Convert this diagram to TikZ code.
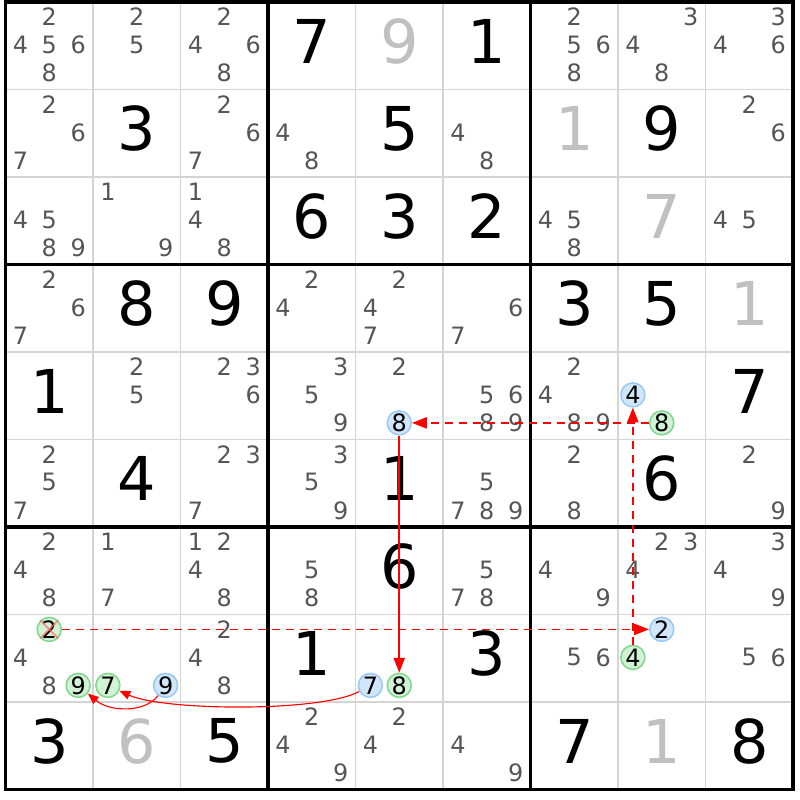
\documentclass[tikz,border=0pt]{standalone}
\usepackage{fontspec}
\setmainfont{DejaVu Sans}
\usetikzlibrary{arrows.meta}

\definecolor{pencilgray}{HTML}{555555}
\definecolor{givengray}{HTML}{C0C0C0}
\definecolor{gridgray}{HTML}{D4D4D4}
\definecolor{bluefill}{HTML}{D2E6FA}
\definecolor{blueline}{HTML}{99C9F5}
\definecolor{greenfill}{HTML}{D2F2D6}
\definecolor{greenline}{HTML}{80D88C}

\newcommand{\pencilfont}{\fontsize{17pt}{18pt}\selectfont}
\newcommand{\bigfont}{\fontsize{43pt}{45pt}\selectfont}

\tikzset{
	pencil/.style={text=pencilgray, font=\pencilfont, inner sep=0pt},
	bigdigit/.style={font=\bigfont, inner sep=0pt},
	hlblue/.style={circle, draw=blueline, fill=bluefill, line width=1.1pt, minimum size=0.6cm, inner sep=0pt, font=\pencilfont},
	hlgreen/.style={hlblue, draw=greenline, fill=greenfill},
	cellline/.style={draw=gridgray, line width=1.2pt},
	boxline/.style={draw=black, line width=2.2pt},
	strongln/.style={draw=red, line width=1.2pt, -{Triangle[length=0.37cm,width=0.28cm]}},
	weakln/.style={strongln, dash pattern=on 0.2cm off 0.15cm},
	curvyln/.style={draw=red, line width=0.8pt, -{Triangle[length=0.27cm,width=0.22cm]}},
	struck/.style={draw=red!60, line width=1.2pt, opacity=0.7}
}

\newcommand{\solved}[4]{
	\node[bigdigit, text=#4] (v#1#2) at (#1+0.5, #2+0.45) {#3};
}

\newcommand{\pencils}[3]{
	\foreach \cnd in {#3} {
		\pgfmathsetmacro{\PCx}{#1 + 0.17 + 0.33*mod(\cnd-1,3)}
		\pgfmathsetmacro{\PCy}{#2 + 0.17 + 0.32*floor((\cnd-1)/3)}
		\node[pencil] (c#1#2\cnd) at (\PCx, \PCy) {\cnd};
	}
}

\newcommand{\linked}[5]{
	\pgfmathsetmacro{\LKx}{#3 + 0.17 + 0.33*mod(#5-1,3)}
	\pgfmathsetmacro{\LKy}{#4 + 0.17 + 0.32*floor((#5-1)/3)}
	\node[#1] (#2) at (\LKx, \LKy) {#5};
}

\begin{document}
\begin{tikzpicture}[x=2.1875cm, y=-2.1875cm]
\useasboundingbox (-0.063,-0.023) rectangle (9.08,9.12);

\foreach \k in {1,...,8} {
	\draw[cellline] (\k,0) -- (\k,9);
	\draw[cellline] (0,\k) -- (9,\k);
}
\foreach \k in {3,6} {
	\draw[boxline] (\k,0) -- (\k,9);
	\draw[boxline] (0,\k) -- (9,\k);
}
\draw[boxline] (0,0) rectangle (9,9);

\solved{3}{0}{7}{black}
\solved{4}{0}{9}{givengray}
\solved{5}{0}{1}{black}
\solved{1}{1}{3}{black}
\solved{4}{1}{5}{black}
\solved{6}{1}{1}{givengray}
\solved{7}{1}{9}{black}
\solved{3}{2}{6}{black}
\solved{4}{2}{3}{black}
\solved{5}{2}{2}{black}
\solved{7}{2}{7}{givengray}
\solved{1}{3}{8}{black}
\solved{2}{3}{9}{black}
\solved{6}{3}{3}{black}
\solved{7}{3}{5}{black}
\solved{8}{3}{1}{givengray}
\solved{0}{4}{1}{black}
\solved{8}{4}{7}{black}
\solved{1}{5}{4}{black}
\solved{4}{5}{1}{black}
\solved{7}{5}{6}{black}
\solved{4}{6}{6}{black}
\solved{3}{7}{1}{black}
\solved{5}{7}{3}{black}
\solved{0}{8}{3}{black}
\solved{1}{8}{6}{givengray}
\solved{2}{8}{5}{black}
\solved{6}{8}{7}{black}
\solved{7}{8}{1}{givengray}
\solved{8}{8}{8}{black}

\pencils{0}{0}{2,4,5,6,8}
\pencils{1}{0}{2,5}
\pencils{2}{0}{2,4,6,8}
\pencils{6}{0}{2,5,6,8}
\pencils{7}{0}{3,4,8}
\pencils{8}{0}{3,4,6}
\pencils{0}{1}{2,6,7}
\pencils{2}{1}{2,6,7}
\pencils{3}{1}{4,8}
\pencils{5}{1}{4,8}
\pencils{8}{1}{2,6}
\pencils{0}{2}{4,5,8,9}
\pencils{1}{2}{1,9}
\pencils{2}{2}{1,4,8}
\pencils{6}{2}{4,5,8}
\pencils{8}{2}{4,5}
\pencils{0}{3}{2,6,7}
\pencils{3}{3}{2,4}
\pencils{4}{3}{2,4,7}
\pencils{5}{3}{6,7}
\pencils{1}{4}{2,5}
\pencils{2}{4}{2,3,6}
\pencils{3}{4}{3,5,9}
\pencils{4}{4}{2}
\pencils{5}{4}{5,6,8,9}
\pencils{6}{4}{2,4,8,9}
\pencils{0}{5}{2,5,7}
\pencils{2}{5}{2,3,7}
\pencils{3}{5}{3,5,9}
\pencils{5}{5}{5,7,8,9}
\pencils{6}{5}{2,8}
\pencils{8}{5}{2,9}
\pencils{0}{6}{2,4,8}
\pencils{1}{6}{1,7}
\pencils{2}{6}{1,2,4,8}
\pencils{3}{6}{5,8}
\pencils{5}{6}{5,7,8}
\pencils{6}{6}{4,9}
\pencils{7}{6}{2,3,4}
\pencils{8}{6}{3,4,9}
\pencils{0}{7}{4,8}
\pencils{2}{7}{2,4,8}
\pencils{6}{7}{5,6}
\pencils{8}{7}{5,6}
\pencils{3}{8}{2,4,9}
\pencils{4}{8}{2,4}
\pencils{5}{8}{4,9}

\linked{hlblue}{blEight}{4}{4}{8}
\linked{hlblue}{blFour}{7}{4}{4}
\linked{hlgreen}{grEight}{7}{4}{8}
\linked{hlgreen}{grTwo}{0}{7}{2}
\linked{hlgreen}{grNine}{0}{7}{9}
\linked{hlgreen}{grSeven}{1}{7}{7}
\linked{hlblue}{blNine}{1}{7}{9}
\linked{hlblue}{blSeven}{4}{7}{7}
\linked{hlgreen}{grEightB}{4}{7}{8}
\linked{hlblue}{blTwo}{7}{7}{2}
\linked{hlgreen}{grFour}{7}{7}{4}

\draw[struck] (grTwo.north west) -- (grTwo.south east) (grTwo.south west) -- (grTwo.north east);

\draw[weakln] (grEight) -- (blEight);
\draw[weakln] (grFour) -- (blFour);
\draw[weakln] (grTwo) -- (blTwo);
\draw[strongln] (blEight) -- (grEightB);
\draw[curvyln] (blSeven) .. controls (3.6,8.12) and (1.8,8.1) .. (grSeven);
\draw[curvyln] (blNine) .. controls (1.6,8.12) and (1.2,8.12) .. (grNine);
\end{tikzpicture}
\end{document}
